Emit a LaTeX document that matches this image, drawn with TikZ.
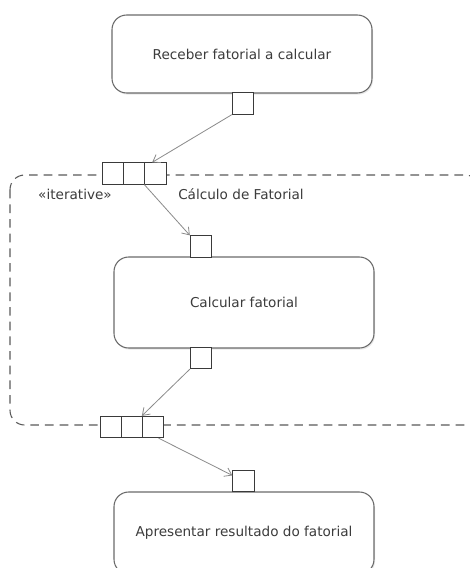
\documentclass[tikz,border=0pt]{standalone}
\usepackage{fontspec}
\setmainfont{DejaVu Sans}
\usetikzlibrary{arrows.meta,calc,shadows}

\definecolor{edgegray}{HTML}{6A6A6A}
\definecolor{pingray}{HTML}{3A3A3A}
\definecolor{flowgray}{HTML}{8A8A8A}
\definecolor{regiongray}{HTML}{5A5A5A}
\definecolor{textgray}{HTML}{3C3C3C}

\begin{document}
\begin{tikzpicture}[x=0.75pt,y=-0.75pt,
  every node/.style={font=\fontsize{10.2pt}{12pt}\selectfont, text=textgray},
  action/.style={draw=edgegray, line width=0.8pt, rounded corners=11pt, fill=white,
    minimum width=195pt, inner sep=0pt,
    drop shadow={shadow xshift=0.8pt, shadow yshift=-1.2pt, opacity=0.18}},
  pinbox/.style={draw=pingray, line width=0.8pt, fill=white, minimum size=15.9pt, inner sep=0pt},
  flow/.style={draw=flowgray, line width=0.6pt, -{Straight Barb[length=5pt,width=7pt]}},
  region/.style={draw=regiongray, line width=0.8pt, dash pattern=on 6.5pt off 4.5pt, rounded corners=11pt},
  caption/.style={inner sep=0pt, anchor=base}]

  \useasboundingbox[fill=white] (0,0) rectangle (470,568);

  % expansion region of the iterative loop
  \draw[region] (10,175) rectangle (480,425);

  % actions
  \node[action, minimum height=58.5pt] (receber) at (242,54) {Receber fatorial a calcular};
  \node[action, minimum height=68.25pt] (calcular) at (244,302.5) {Calcular fatorial};
  \node[action, minimum height=61.5pt] (apresentar) at (244,533) {Apresentar resultado do fatorial};

  % pins
  \node[pinbox] (pinout1) at (243,103.5) {};
  \node[pinbox] (pinin2) at (201,246.5) {};
  \node[pinbox] (pinout2) at (201,358) {};
  \node[pinbox] (pinin3) at (243.5,481) {};

  % input expansion node
  \node[pinbox] (in1) at (113.5,173.5) {};
  \node[pinbox] (in2) at (134.5,173.5) {};
  \node[pinbox] (in3) at (155.5,173.5) {};

  % output expansion node
  \node[pinbox] (out1) at (111,427) {};
  \node[pinbox] (out2) at (132,427) {};
  \node[pinbox] (out3) at (153,427) {};

  % region labels
  \node[caption] (stereo) at (75,199) {«iterative»};
  \node[caption] (regname) at (241,199) {Cálculo de Fatorial};

  % object flows
  \draw[flow] (pinout1.south west) -- ($(in3.north west)!0.35!(in3.north east)$);
  \draw[flow] (in3.south west) -- (pinin2.north west);
  \draw[flow] (pinout2.south west) -- (out3.north west);
  \draw[flow] ($(out3.south)!0.5!(out3.south east)$) -- ($(pinin3.north west)!0.25!(pinin3.south west)$);
\end{tikzpicture}
\end{document}
